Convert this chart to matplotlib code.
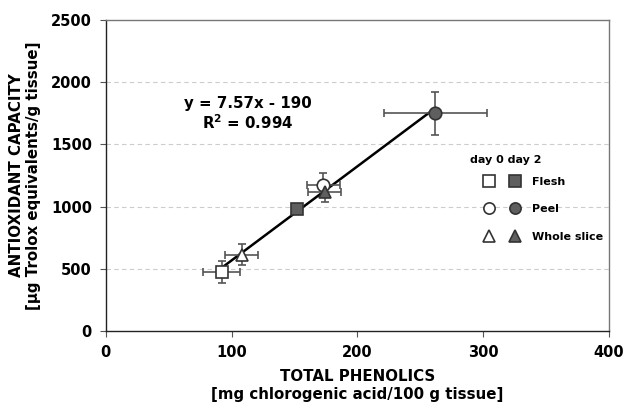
import matplotlib
matplotlib.use("Agg")
import matplotlib.pyplot as plt
from matplotlib.legend_handler import HandlerTuple

# total phenolics (x) vs antioxidant capacity (y), mean +/- sd
tissues = ["Flesh", "Peel", "Whole slice"]
markers = ["s", "o", "^"]
day0_x = [92, 173, 108]
day0_y = [472, 1174, 611]
day0_xerr = [15, 13, 13]
day0_yerr = [87, 100, 85]
day2_x = [152, 262, 174]
day2_y = [981, 1750, 1120]
day2_xerr = [3, 41, 13]
day2_yerr = [20, 174, 80]

slope = 7.57
intercept = -190
fit_x = [92.5, 262]

plt.rcParams['font.family'] = ['DejaVu Sans']
plt.rcParams['font.weight'] = 'bold'

fig = plt.figure(figsize=(6.26, 4.03), dpi=100)
ax = fig.add_axes([0.169, 0.179, 0.804, 0.771])

ax.plot(fit_x, [slope * v + intercept for v in fit_x], color='black', lw=1.8, zorder=2)

err_style = dict(fmt='none', ecolor='#555555', elinewidth=1.2, capsize=3, capthick=1.2, zorder=3)
ax.errorbar(day0_x, day0_y, xerr=day0_xerr, yerr=day0_yerr, **err_style)
ax.errorbar(day2_x, day2_y, xerr=day2_xerr, yerr=day2_yerr, **err_style)

handles = []
for i, name in enumerate(tissues):
    h0, = ax.plot(day0_x[i], day0_y[i], ls='none', marker=markers[i], ms=9,
                  mfc='white', mec='#333333', mew=1.2, zorder=4)
    h2, = ax.plot(day2_x[i], day2_y[i], ls='none', marker=markers[i], ms=9,
                  mfc='#5f5f5f', mec='#333333', mew=1.2, zorder=4)
    handles.append((h0, h2))

ax.text(113, 1833, "y = 7.57x - 190", ha='center', va='center', fontsize=10.8, fontweight='bold')
ax.text(113, 1672, "R$^2$ = 0.994", ha='center', va='center', fontsize=10.8, fontweight='bold')

leg = ax.legend(handles, tissues, handler_map={tuple: HandlerTuple(ndivide=None, pad=1.35)},
                loc='upper left', bbox_to_anchor=(0.7495, 0.495), borderaxespad=0,
                borderpad=0, frameon=False, fontsize=8, handlelength=3.33,
                labelspacing=1.55, handletextpad=1.05, markerscale=0.9)
for t in leg.get_texts():
    t.set_fontweight('bold')
ax.text(0.724, 0.55, "day 0 day 2", transform=ax.transAxes, ha='left', va='center',
        fontsize=8, fontweight='bold')

ax.set_xlim(0, 400)
ax.set_ylim(0, 2500)
ax.set_xticks([0, 100, 200, 300, 400])
ax.set_yticks([0, 500, 1000, 1500, 2000, 2500])
ax.tick_params(labelsize=10.5, length=4, width=0.8, color='#555555', pad=6)
for lab in ax.get_xticklabels() + ax.get_yticklabels():
    lab.set_fontweight('bold')

for v in [500, 1000, 1500, 2000]:
    ax.axhline(v, color='#cccccc', lw=0.8, ls=(0, (4, 3)), zorder=0)

ax.spines['left'].set_color('#222222')
ax.spines['bottom'].set_color('#222222')
ax.spines['top'].set_color('#777777')
ax.spines['right'].set_color('#777777')
for s in ax.spines.values():
    s.set_linewidth(1.0)

ax.set_xlabel("TOTAL PHENOLICS\n[mg chlorogenic acid/100 g tissue]", fontsize=10.8,
              fontweight='bold', linespacing=1.2, labelpad=7)
ax.set_ylabel("ANTIOXIDANT CAPACITY\n[µg Trolox equivalents/g tissue]", fontsize=10.8,
              fontweight='bold', linespacing=1.2, labelpad=7)

fig.savefig("out.png", dpi=100)
